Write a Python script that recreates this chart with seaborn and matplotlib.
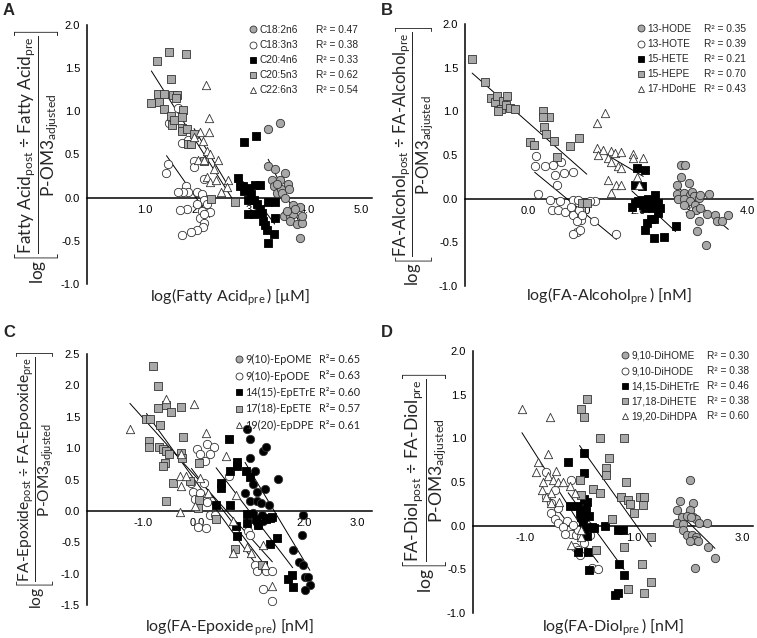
import numpy as np
import matplotlib
matplotlib.use('Agg')
import matplotlib.pyplot as plt
import seaborn as sns
from matplotlib.lines import Line2D

# ---------------- data ----------------
# A: fatty acids
a_c182_x = [3.28, 3.49, 3.28, 3.40, 3.59, 3.36, 3.38, 3.49, 3.44, 3.51, 3.53, 3.65, 3.67, 3.59, 3.74,
            3.61, 3.57, 3.69, 3.74, 3.87, 3.69, 3.81, 3.90, 3.87, 3.90, 3.45, 3.62, 3.78]
a_c182_y = [0.79, 0.86, 0.37, 0.33, 0.29, 0.20, 0.14, 0.20, 0.05, 0.10, 0.05, 0.16, 0.10, 0.00, -0.09,
            -0.19, -0.21, -0.21, -0.19, -0.11, -0.27, -0.30, -0.29, -0.47, -0.21, 0.16, -0.15, -0.13]
a_c183_x = [1.62, 1.44, 1.68, 1.43, 1.40, 1.90, 1.90, 1.79, 2.09, 1.76, 1.79, 1.71, 1.62, 1.96, 2.05,
            2.09, 2.15, 1.77, 1.96, 2.05, 2.20, 2.02, 2.09, 2.07, 1.96, 1.86, 1.69, 2.09, 1.65]
a_c183_y = [1.04, 0.87, 0.63, 0.39, 0.29, 0.42, 0.36, 0.67, 0.22, 0.14, 0.07, 0.07, 0.07, 0.07, 0.04,
            -0.03, -0.07, -0.13, -0.07, -0.15, -0.17, -0.23, -0.29, -0.34, -0.38, -0.40, -0.43, -0.19, -0.14]
a_c204_x = [2.84, 3.06, 2.73, 2.75, 2.81, 2.84, 2.93, 3.04, 3.13, 2.96, 2.90, 3.01, 3.07, 3.28, 3.40,
            2.91, 3.02, 3.17, 3.19, 3.22, 3.25, 3.28, 3.39, 3.40, 3.12]
a_c204_y = [0.65, 0.71, 0.23, 0.14, 0.13, 0.08, 0.11, 0.15, 0.15, 0.04, -0.03, -0.03, -0.07, -0.05, -0.05,
            -0.19, -0.19, -0.18, -0.27, -0.32, -0.38, -0.52, -0.42, -0.23, -0.13]
a_c205_x = [1.22, 1.45, 1.76, 1.48, 1.12, 1.25, 1.36, 1.27, 1.35, 1.52, 1.60, 1.58, 1.49, 1.51, 1.54,
            1.71, 1.69, 1.68, 1.69, 1.78, 1.90, 1.80, 1.86, 2.09, 2.23, 2.67]
a_c205_y = [1.58, 1.69, 1.66, 1.38, 1.10, 1.20, 1.20, 1.11, 1.03, 1.19, 1.19, 1.15, 0.95, 0.84, 0.90,
            1.01, 0.93, 0.81, 0.77, 0.80, 0.74, 0.62, 0.62, 0.43, -0.02, -0.05]
a_c226_x = [2.13, 2.19, 2.02, 2.18, 1.91, 2.08, 2.15, 2.21, 2.36, 2.27, 1.99, 2.09, 2.15, 2.20, 2.31,
            2.54, 2.40, 2.52]
a_c226_y = [1.30, 0.92, 0.76, 0.76, 0.70, 0.66, 0.54, 0.51, 0.44, 0.33, 0.44, 0.44, 0.24, 0.18, 0.20,
            0.20, 0.06, 0.12]
a_names = ['C18:2n6', 'C18:3n3', 'C20:4n6', 'C20:5n3', 'C22:6n3']
a_r2 = ['0.47', '0.38', '0.33', '0.62', '0.54']

# B: FA-alcohols
b_hode_x = [2.79, 2.86, 2.71, 2.71, 2.79, 2.93, 2.74, 2.85, 2.95, 2.98, 3.03, 3.11, 3.14, 3.29, 2.85,
            2.95, 2.85, 3.04, 3.06, 2.95, 3.14, 3.26, 3.41, 3.44, 3.53, 3.11, 3.08, 3.25, 3.65]
b_hode_y = [0.39, 0.39, 0.16, 0.05, 0.25, 0.18, 0.00, 0.06, 0.04, 0.08, 0.03, 0.01, 0.04, 0.05, 0.00,
            -0.03, -0.07, -0.07, -0.13, -0.17, -0.11, -0.17, -0.19, -0.26, -0.26, -0.26, -0.37, -0.53, -0.19]
b_hote_x = [0.15, 0.12, 0.30, 0.46, 0.60, 0.49, 0.66, 0.82, 0.52, 0.18, 0.40, 0.58, 0.81, 0.91, 1.22,
            0.43, 0.55, 0.67, 0.78, 0.82, 0.93, 0.96, 0.90, 0.98, 0.90, 0.94, 0.82, 1.21, 1.61, 1.13]
b_hote_y = [0.49, 0.37, 0.37, 0.39, 0.42, 0.27, 0.29, 0.31, 0.16, 0.05, -0.02, -0.03, -0.02, -0.02, -0.03,
            -0.13, -0.13, -0.15, -0.09, -0.19, -0.13, -0.24, -0.26, -0.19, -0.38, -0.36, -0.40, -0.26, -0.40, -0.03]
b_hete_x = [1.98, 2.13, 1.95, 2.07, 2.01, 1.95, 1.89, 2.07, 2.10, 2.19, 2.31, 2.25, 2.13, 2.25, 2.37,
            2.40, 2.24, 2.16, 2.30, 2.13, 2.30, 2.47, 2.69, 2.37]
b_hete_y = [0.35, 0.33, 0.16, 0.14, -0.03, -0.05, -0.09, -0.02, -0.07, 0.00, 0.04, -0.05, -0.11, -0.11, -0.05,
            -0.11, -0.23, -0.28, -0.23, -0.36, -0.45, -0.44, -0.31, -0.16]
b_hepe_x = [-1.02, -0.78, -0.67, -0.61, -0.57, -0.46, -0.38, -0.50, -0.40, -0.55, -0.33, -0.23, 0.27, 0.38,
            0.27, 0.29, 0.33, 0.03, 0.11, 0.47, 0.52, 0.76, 0.93, 0.99, 1.07]
b_hepe_y = [1.60, 1.34, 1.15, 1.11, 1.17, 1.12, 1.18, 1.03, 1.07, 1.00, 1.04, 1.03, 1.00, 0.93,
            0.93, 0.82, 0.74, 0.65, 0.62, 0.66, 0.48, 0.60, 0.70, -0.05, -0.05]
b_hdohe_x = [1.26, 1.40, 1.25, 1.37, 1.52, 1.58, 1.70, 1.92, 1.92, 2.10, 1.28, 1.46, 1.52, 1.64, 1.70,
             1.46, 1.61, 1.70, 1.98, 2.03, 1.52]
b_hdohe_y = [0.87, 0.98, 0.58, 0.56, 0.55, 0.52, 0.54, 0.51, 0.46, 0.46, 0.50, 0.46, 0.42, 0.37, 0.35,
             0.21, 0.16, 0.16, 0.25, 0.16, 0.07]
b_names = ['13-HODE', '13-HOTE', '15-HETE', '15-HEPE', '17-HDoHE']
b_r2 = ['0.35', '0.39', '0.21', '0.70', '0.43']

# C: FA-epoxides
c_epome_x = [0.94, 1.00, 1.00, 1.24, 1.30, 1.08, 1.05, 0.90, 0.99, 1.13, 1.13, 1.52, 1.24, 1.21, 1.99,
             1.96, 1.79, 1.90, 1.98, 2.02, 2.08, 2.11, 2.02, 1.20, 1.05, 1.27, 1.35]
c_epome_y = [1.31, 1.15, 0.85, 0.96, 1.01, 0.63, 0.43, 0.28, 0.16, 0.30, 0.16, 0.51, -0.16, -0.06, -0.07,
             -0.38, -0.62, -0.82, -0.87, -1.06, -1.06, -1.18, -1.26, 0.13, -0.04, 0.35, 0.10]
c_epode_x = [0.01, 0.19, 0.06, 0.32, 0.24, 0.15, -0.10, -0.08, -0.04, 0.06, 0.18, 0.19, 0.24, 0.02, 0.18,
             0.34, 0.60, 0.13, 0.96, 1.00, 1.15, 1.08, 1.12, 1.24, 1.30, 1.41, 1.23, 1.41]
c_epode_y = [0.98, 1.06, 0.90, 1.01, 0.90, 0.79, 0.45, 0.30, 0.19, 0.29, 0.21, 0.14, -0.06, -0.26, -0.27,
             -0.06, 0.56, 0.44, -0.32, -0.38, -0.23, -0.86, -0.96, -0.88, -0.96, -0.96, -1.25, -1.44]
c_epetre_x = [0.60, 0.62, 0.75, 0.75, 0.92, 1.00, 0.46, 0.46, 0.62, 0.36, 0.73, 0.75, 0.93, 0.94, 1.10,
              1.15, 1.30, 1.36, 1.41, 1.36, 1.49, 1.71, 1.77, 1.79, 1.24]
c_epetre_y = [1.15, 0.63, 0.78, 0.72, 0.63, 0.54, 0.45, 0.37, 0.10, 0.09, -0.24, -0.40, -0.05, -0.19, -0.13,
              -0.23, -0.13, -0.11, -0.10, -0.53, -0.44, -1.09, -1.02, -1.22, -0.86]
c_epete_x = [-0.82, -0.72, -0.72, -0.57, -0.49, -0.29, -0.94, -0.87, -0.69, -0.89, -0.89, -0.70, -0.63,
             -0.57, -0.52, -0.59, -0.64, -0.26, -0.29, -0.27, 0.04, -0.45, -0.13, -0.57, 0.04, 0.02, 0.36,
             0.71, 1.21]
c_epete_y = [2.31, 1.99, 1.64, 1.69, 1.57, 1.65, 1.47, 1.47, 1.37, 1.12, 1.01, 1.01, 0.98, 0.95, 0.90,
             0.77, 0.71, 1.18, 0.93, 0.84, 0.77, 0.45, 0.47, 0.15, 0.18, 0.05, -0.13, -0.61, -0.86]
c_epdpe_x = [-1.25, -0.57, -0.06, 0.18, -0.30, -0.32, -0.29, -0.21, 0.06, -0.04, -0.32, 0.21, 0.55, 0.73,
             0.68, 0.68, 0.93, 1.02, 1.23, 1.27, 1.41]
c_epdpe_y = [1.30, 1.78, 1.71, 1.24, 0.90, 0.55, 0.40, 0.55, 0.53, 0.07, -0.02, 0.29, 0.87, 0.26,
             -0.16, -0.67, -0.58, -0.67, -0.54, -0.86, -1.20]
c_names = ['9(10)-EpOME', '9(10)-EpODE', '14(15)-EpETrE', '17(18)-EpETE', '19(20)-EpDPE']
c_r2 = ['0.65', '0.63', '0.60', '0.57', '0.61']

# D: FA-diols
d_dihome_x = [2.04, 1.86, 1.81, 2.10, 2.04, 1.90, 1.98, 2.10, 2.16, 1.81, 1.92, 2.20, 2.35, 1.92, 1.98,
              2.07, 2.16, 2.13, 2.19, 2.04, 2.38, 2.50, 2.14, 2.06]
d_dihome_y = [0.52, 0.28, 0.18, 0.26, 0.18, 0.10, 0.11, 0.10, 0.08, 0.03, 0.02, 0.03, 0.03, -0.05, -0.11,
              -0.11, -0.13, -0.16, -0.18, -0.18, -0.24, -0.37, -0.49, 0.10]
d_dihode_x = [-0.60, -0.15, -0.45, -0.60, -0.51, -0.39, -0.51, -0.45, -0.39, -0.23, -0.29, -0.14, -0.05,
              -0.02, 0.04, -0.08, -0.02, 0.01, 0.10, 0.20, 0.23, 0.35, -0.11, 0.14, -0.26]
d_dihode_y = [0.62, 0.52, 0.41, 0.33, 0.26, 0.20, 0.14, 0.08, 0.03, 0.05, -0.02, -0.09, -0.11,
              -0.05, -0.13, -0.24, -0.28, -0.34, -0.20, -0.11, -0.49, -0.50, 0.01, 0.01, -0.09]
d_dihetre_x = [-0.20, 0.10, 0.09, -0.17, -0.02, 0.10, 0.15, 0.01, 0.04, 0.18, 0.12, 0.07, 0.10, 0.14, 0.23,
               0.28, 0.17, -0.02, 0.18, 0.47, 0.71, 0.80, 0.74, 0.83, 0.67, 0.71]
d_dihetre_y = [0.73, 0.60, 0.83, 0.22, 0.23, 0.31, 0.27, 0.15, 0.10, 0.11, 0.18, 0.05, -0.03, -0.12, -0.01,
               -0.03, -0.30, -0.30, -0.51, 0.00, -0.05, -0.05, -0.44, -0.56, -0.79, -0.77]
d_dihete_x = [0.04, 0.14, 0.09, 0.39, 0.83, 0.55, 0.50, 0.50, 0.01, 0.26, 0.38, 0.03, 0.77, 0.87, 0.90,
              0.93, 1.01, 1.12, 1.20, 1.18, 0.60, 1.33, 0.32, 0.83, 1.15, 1.32, 1.20, 0.90]
d_dihete_y = [1.34, 1.45, 1.25, 1.00, 1.00, 0.78, 0.66, 0.58, 0.52, 0.42, 0.37, 0.35, 0.33, 0.50, 0.29,
              0.25, 0.14, 0.33, 0.33, 0.24, 0.08, -0.13, -0.28, -0.24, -0.44, -0.64, -0.77, -0.72]
d_dihdpa_x = [-1.05, -0.53, -0.57, -0.76, -0.79, -0.66, -0.57, -0.48, -0.42, -0.39, -0.29, -0.51, -0.69,
              -0.17, -0.08, -0.60, -0.51, -0.36, -0.14, 0.03, 0.04]
d_dihdpa_y = [1.34, 1.25, 0.82, 0.73, 0.62, 0.50, 0.57, 0.52, 0.63, 0.50, 0.50, 0.37, 0.41, 0.45, 0.37,
              0.33, 0.26, 0.27, -0.22, -0.13, -0.05]
d_names = ['9,10-DiHOME', '9,10-DiHODE', '14,15-DiHETrE', '17,18-DiHETE', '19,20-DiHDPA']
d_r2 = ['0.30', '0.38', '0.46', '0.38', '0.60']

# ---------------- style ----------------
sns.set_style('white')
plt.rcParams['font.family'] = ['Liberation Sans', 'DejaVu Sans']
plt.rcParams['mathtext.fontset'] = 'custom'
plt.rcParams['mathtext.rm'] = 'Lato'
plt.rcParams['mathtext.it'] = 'Lato:italic'
plt.rcParams['mathtext.bf'] = 'Lato:bold'
plt.rcParams['axes.unicode_minus'] = False

GRAY = '#a8a8a8'
EDGE = '#333333'
MARKERS = [
    dict(marker='o', fc=GRAY, ec=EDGE),      # gray circle
    dict(marker='o', fc='white', ec=EDGE),   # open circle
    dict(marker='s', fc='black', ec='black'),  # black square
    dict(marker='s', fc=GRAY, ec=EDGE),      # gray square
    dict(marker='^', fc='white', ec=EDGE),   # open triangle
]


def ylab(num1, num2, den='P-OM3'):
    return (r'$\text{log}\left[\dfrac{\text{%s}_{\text{post}}\text{ ÷ %s}_{\text{pre}}}'
            r'{\text{%s}_{\text{adjusted}}}\right]$' % (num1, num2, den))


def draw_panel(ax, series, names, r2, xlim, ylim, xticks, yticks, xlabel,
               leg_x, r2_x, r2_fmt, first_face=None, leg_font=None):
    for (x, y), st in zip(series, MARKERS):
        sns.regplot(x=np.array(x), y=np.array(y), scatter=False, ci=None, truncate=True,
                    color='black', line_kws=dict(lw=0.7), ax=ax)
    for i, ((x, y), st) in enumerate(zip(series, MARKERS)):
        fc = st['fc']
        if i == 0 and first_face is not None:
            fc = first_face
        sns.scatterplot(x=x, y=y, marker=st['marker'], color=fc, edgecolor=st['ec'],
                        s=36, linewidth=0.6, ax=ax, zorder=3, legend=False)

    ax.set_xlim(*xlim)
    ax.set_ylim(*ylim)
    ax.set_xticks(xticks)
    ax.set_yticks(yticks)
    ax.set_xticklabels([f'{t:.1f}' for t in xticks])
    ax.set_yticklabels([f'{t:.1f}' for t in yticks])
    for s in ['top', 'right']:
        ax.spines[s].set_visible(False)
    ax.spines['bottom'].set_position(('data', 0))
    for s in ['left', 'bottom']:
        ax.spines[s].set_linewidth(1.1)
        ax.spines[s].set_color('black')
    ax.tick_params(axis='x', direction='in', length=3, width=0.9, labelsize=8, pad=5, colors='black')
    ax.tick_params(axis='y', direction='out', length=3, width=0.9, labelsize=8, pad=2, colors='black')
    ax.set_xlabel('')
    ax.set_ylabel('')

    # legend: markers + names, then R2 column
    fprops = dict(size=7.3)
    if leg_font:
        fprops = dict(size=7.8, family=leg_font)
    handles = [Line2D([], [], linestyle='none', marker=st['marker'], markerfacecolor=st['fc'],
                      markeredgecolor=st['ec'], markersize=5, markeredgewidth=0.6) for st in MARKERS]
    leg = ax.legend(handles, names, loc='upper left', bbox_to_anchor=(leg_x, 1.0),
                    frameon=False, prop=fprops, handlelength=0.7, handletextpad=0.25,
                    labelspacing=0.5, borderpad=0, borderaxespad=0)
    ax.add_artist(leg)
    blank = [Line2D([], [], linestyle='none') for _ in names]
    ax.legend(blank, [r2_fmt % v for v in r2], loc='upper left', bbox_to_anchor=(r2_x, 1.0),
              frameon=False, prop=fprops, handlelength=0, handletextpad=0,
              labelspacing=0.5, borderpad=0, borderaxespad=0)

    ax.text(0.5, xlabel[1], xlabel[0], transform=ax.transAxes, ha='center', va='center',
            fontsize=11.5, family='Lato')


fig = plt.figure(figsize=(7.57, 6.38), dpi=100)
W, H = 757, 638


def add_ax(l, r, t, b):
    return fig.add_axes([l / W, 1 - b / H, (r - l) / W, (b - t) / H])


axA = add_ax(87, 372, 25, 284)
axB = add_ax(465, 753, 24, 286)
axC = add_ax(87, 372, 354, 605)
axD = add_ax(473, 753, 351, 613)

r2_std = 'R² = %s'
draw_panel(axA, [(a_c182_x, a_c182_y), (a_c183_x, a_c183_y), (a_c204_x, a_c204_y),
                 (a_c205_x, a_c205_y), (a_c226_x, a_c226_y)], a_names, a_r2,
           (-0.07, 5.2), (-1.0, 2.0), [1, 2, 3, 4, 5], np.arange(-1.0, 2.01, 0.5),
           ('log(Fatty Acid$_{\\text{pre}}\\,$) [μM]', -0.05), 0.57, 0.805, r2_std)
draw_panel(axB, [(b_hode_x, b_hode_y), (b_hote_x, b_hote_y), (b_hete_x, b_hete_y),
                 (b_hepe_x, b_hepe_y), (b_hdohe_x, b_hdohe_y)], b_names, b_r2,
           (-1.15, 4.1), (-1.0, 2.0), [0, 1, 2, 3, 4], np.arange(-1.0, 2.01, 0.5),
           ('log(FA-Alcohol$_{\\text{pre}}\\,$) [nM]', -0.04), 0.6, 0.83, r2_std)
draw_panel(axC, [(c_epome_x, c_epome_y), (c_epode_x, c_epode_y), (c_epetre_x, c_epetre_y),
                 (c_epete_x, c_epete_y), (c_epdpe_x, c_epdpe_y)], c_names, c_r2,
           (-2.05, 3.27), (-1.5, 2.5), [-1, 0, 1, 2, 3], np.arange(-1.5, 2.51, 0.5),
           ('log(FA-Epoxide$\\,_{\\text{pre}}$) [nM]', -0.09), 0.52, 0.815, 'R²= %s',
           first_face='black', leg_font='Lato')
draw_panel(axD, [(d_dihome_x, d_dihome_y), (d_dihode_x, d_dihode_y), (d_dihetre_x, d_dihetre_y),
                 (d_dihete_x, d_dihete_y), (d_dihdpa_x, d_dihdpa_y)], d_names, d_r2,
           (-1.95, 3.2), (-1.0, 2.0), [-1, 1, 3], np.arange(-1.0, 2.01, 0.5),
           ('log(FA-Diol$_{\\text{pre}}\\,$) [nM]', -0.055), 0.53, 0.835, 'R² = %s')

# y labels (rotated bracketed fraction)
fig.text(37 / W, 1 - 156 / H, ylab('Fatty Acid', 'Fatty Acid'), rotation=90,
         ha='center', va='center', fontsize=12.4)
fig.text(414 / W, 1 - 156 / H, ylab('FA-Alcohol', 'FA-Alcohol'), rotation=90,
         ha='center', va='center', fontsize=12.0)
fig.text(36 / W, 1 - 480 / H, ylab('FA-Epoxide', 'FA-Epooxide'), rotation=90,
         ha='center', va='center', fontsize=11.2)
fig.text(425 / W, 1 - 483 / H, ylab('FA-Diol', 'FA-Diol'), rotation=90,
         ha='center', va='center', fontsize=12.6)

for lab, x, y in [('A', 3, 3), ('B', 381, 3), ('C', 3, 325), ('D', 381, 325)]:
    fig.text(x / W, 1 - y / H, lab, ha='left', va='top', fontsize=12, fontweight='bold')

fig.savefig('out.png', dpi=100)
